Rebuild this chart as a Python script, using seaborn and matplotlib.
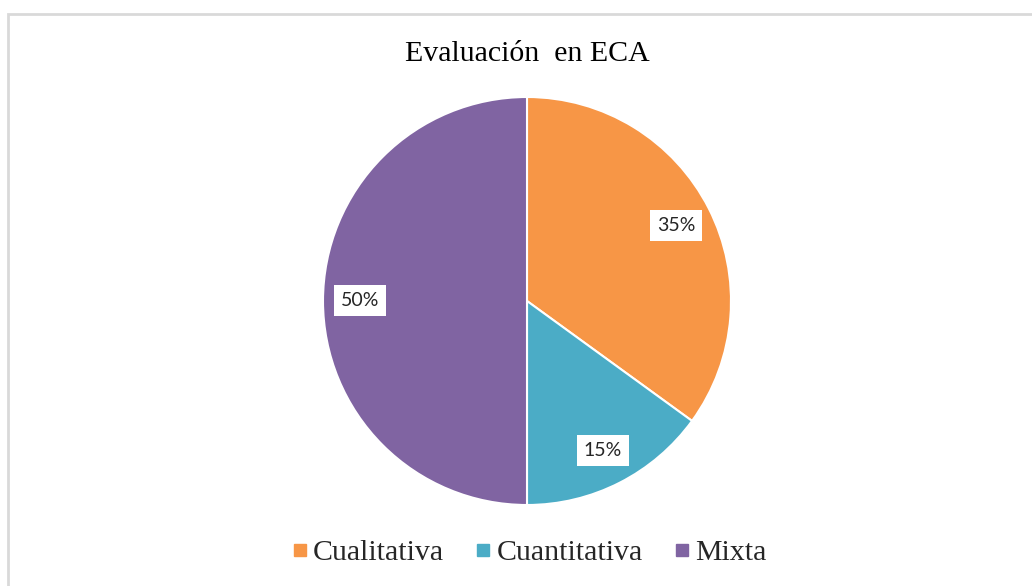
import matplotlib
matplotlib.use("Agg")
import matplotlib.pyplot as plt
from matplotlib.patches import Rectangle
from matplotlib.lines import Line2D
import seaborn as sns

# Data
categories = ["Cualitativa", "Cuantitativa", "Mixta"]
values = [35, 15, 50]
colors = ["#F79646", "#4BACC6", "#8064A2"]

sns.set_theme(style="white")
plt.rcParams["font.family"] = ["Liberation Serif", "DejaVu Serif"]

W, H = 1032, 586
fig = plt.figure(figsize=(W / 100, H / 100), dpi=100)

# light grey chart frame
fig.patches.append(Rectangle((8 / W, -0.05), 1.1, 1 - 14 / H + 0.05,
                             transform=fig.transFigure, fill=False,
                             edgecolor="#d9d9d9", linewidth=2))

# Pie: centre (527, 301) px, radius ~204 px
cx, cy, r = 527, 301, 204
ax = fig.add_axes([(cx - r) / W, (H - cy - r) / H, 2 * r / W, 2 * r / H])
wedges, texts, autotexts = ax.pie(
    values, colors=colors, startangle=90, counterclock=False,
    autopct="%1.0f%%", pctdistance=0.82,
    wedgeprops=dict(edgecolor="white", linewidth=1.5),
    textprops=dict(fontsize=14, family=["Lato", "DejaVu Sans"], color="#262626"),
)
for t in autotexts:
    t.set_bbox(dict(facecolor="white", edgecolor="none", pad=5))
ax.set_xlim(-1, 1)
ax.set_ylim(-1, 1)
ax.set_aspect("equal")

fig.text(cx / W, 1 - 54 / H, "Evaluación  en ECA", ha="center", va="center",
         fontsize=21.5, color="#000000")

handles = [Line2D([0], [0], marker="s", linestyle="", markersize=8,
                  markerfacecolor=c, markeredgecolor=c) for c in colors]
fig.legend(handles, categories, loc="center", bbox_to_anchor=(cx / W, 1 - 553 / H),
           ncol=3, frameon=False, fontsize=21.5, handletextpad=0.05,
           columnspacing=0.9, handlelength=0.8)

fig.savefig("out.png", dpi=100, facecolor="white")
